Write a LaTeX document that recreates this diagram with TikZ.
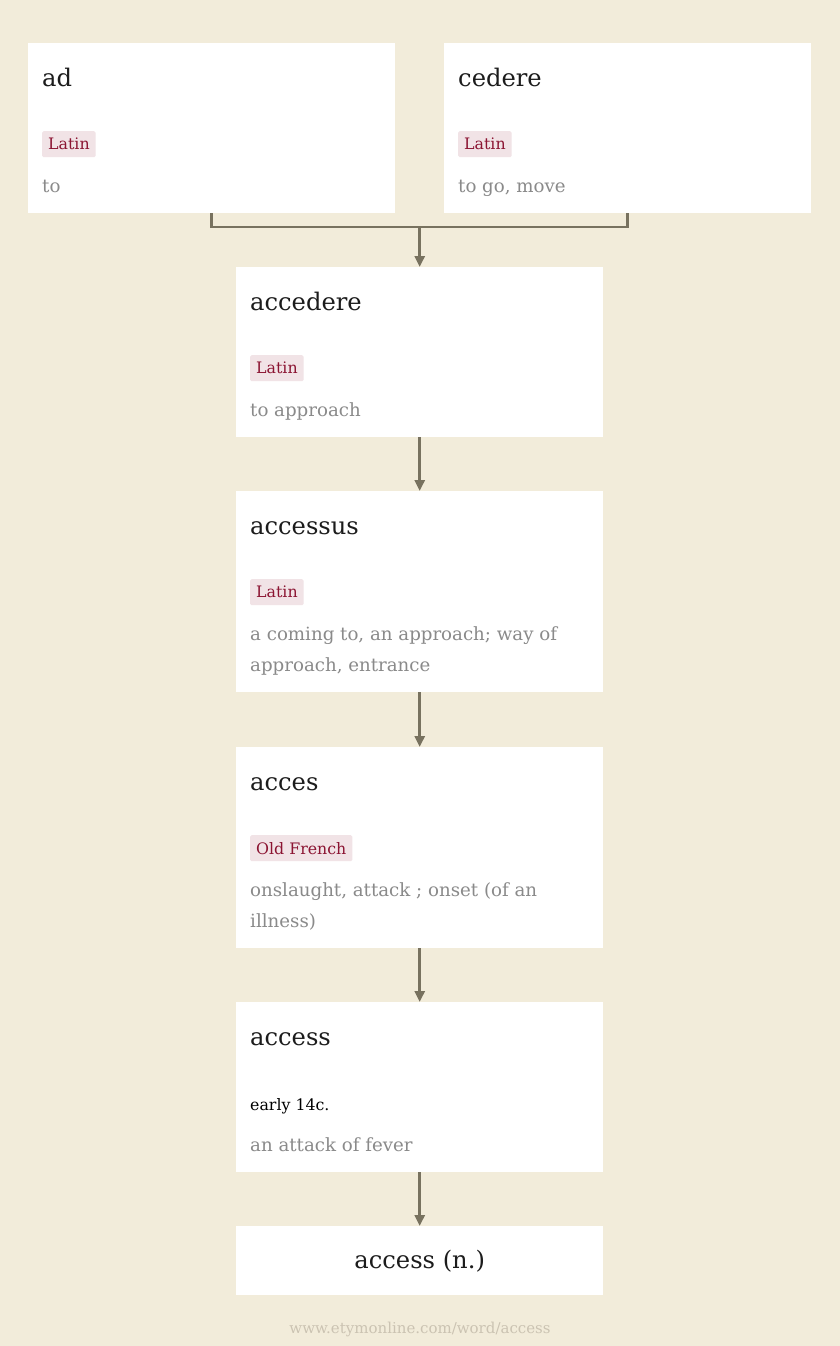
\documentclass[tikz,border=0pt]{standalone}
\usepackage{fontspec}
\setmainfont{DejaVu Serif}
\usetikzlibrary{arrows.meta,positioning,calc}
\definecolor{paper}{HTML}{F2ECDA}
\definecolor{tagbg}{HTML}{F1E3E6}
\definecolor{tagfg}{HTML}{8B1432}
\definecolor{glossfg}{HTML}{8A8A8A}
\definecolor{wordfg}{HTML}{1C1C1C}
\definecolor{linkfg}{HTML}{78725F}
\definecolor{footfg}{HTML}{CBC3B2}

\begin{document}
\begin{tikzpicture}[
    x=1pt, y=-1pt,
    card/.style={rectangle, fill=white, inner sep=0pt, minimum width=367pt, anchor=north west},
    word/.style={inner sep=0pt, anchor=base west, text=wordfg, font=\fontsize{24.2}{28}\selectfont},
    tag/.style={rectangle, fill=tagbg, text=tagfg, rounded corners=1.5pt, inner xsep=6pt, inner ysep=0pt,
        minimum height=26pt, anchor=north west, font=\fontsize{15.8}{18}\selectfont},
    gloss/.style={inner sep=0pt, anchor=base west, align=left, text=glossfg, font=\fontsize{18.2}{31}\selectfont},
    date/.style={inner sep=0pt, anchor=base west, text=black, font=\fontsize{15.8}{18}\selectfont},
    link/.style={draw=linkfg, line width=2.8pt},
    arrow/.style={link, -{Triangle[length=11pt, width=10pt]}}
]
    % page
    \fill[paper] (0,0) rectangle (840,1346);
    \useasboundingbox (0,0) rectangle (840,1346);

    % Cards
    \node[card, minimum height=170pt] (ad) at (28,43) {};
    \node[card, minimum height=170pt] (cedere) at (444,43) {};
    \node[card, minimum height=170pt] (accedere) at (236,267) {};
    \node[card, minimum height=201pt] (accessus) at (236,491) {};
    \node[card, minimum height=201pt] (acces) at (236,747) {};
    \node[card, minimum height=170pt] (access) at (236,1002) {};
    \node[card, minimum height=69pt] (noun) at (236,1226) {};

    % Words, languages, meanings (base of the last gloss line at \dy)
    \foreach \card/\w/\lang/\dy/\g in {ad/ad/Latin/149/to, cedere/cedere/Latin/149/{to go, move},
        accedere/accedere/Latin/149/to approach,
        accessus/accessus/Latin/180/{a coming to, an approach; way of\\approach, entrance},
        acces/acces/Old French/180/{onslaught, attack ; onset (of an\\illness)}} {
        \node[word] (\card-w) at ($(\card.north west)+(14,43)$) {\w};
        \node[tag] (\card-l) at ($(\card.north west)+(14,88)$) {\lang};
        \node[gloss] (\card-g) at ($(\card.north west)+(14,\dy)$) {\g};
    }
    \node[word] (access-w) at ($(access.north west)+(14,43)$) {access};
    \node[date] (access-d) at ($(access.north west)+(14,108)$) {early 14c.};
    \node[gloss] (access-g) at ($(access.north west)+(14,149)$) {an attack of fever};
    \node[inner sep=0pt, text=wordfg, font=\fontsize{24.2}{28}\selectfont] (noun-w) at (noun.center) {access (n.)};

    % Links
    \coordinate (join) at ($(accedere.north)+(0,-40)$);
    \draw[link] (ad.south) |- (join) -| (cedere.south);
    \draw[arrow] (join) -- (accedere.north);
    \foreach \a/\b in {accedere/accessus, accessus/acces, acces/access, access/noun} {
        \draw[arrow] (\a.south) -- (\b.north);
    }

    % footer
    \node[text=footfg, font=\fontsize{15}{17}\selectfont] (site) at (420,1329) {www.etymonline.com/word/access};
\end{tikzpicture}
\end{document}
